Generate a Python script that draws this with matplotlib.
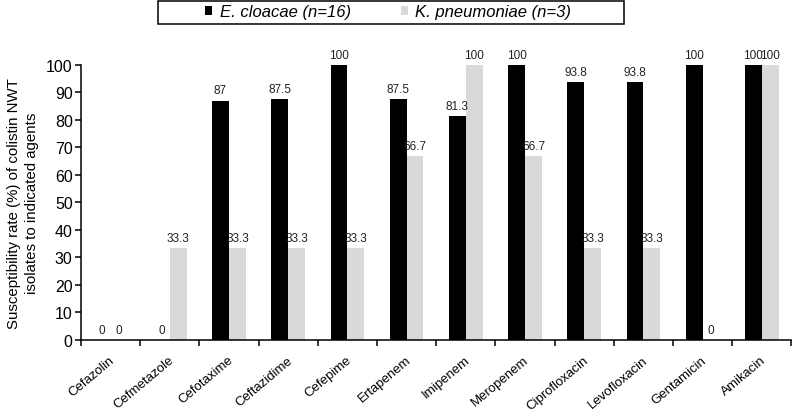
import matplotlib

matplotlib.use("Agg")
import numpy as np
from matplotlib import pyplot as plt
from matplotlib.patches import Rectangle

# data
agents = [
    "Cefazolin", "Cefmetazole", "Cefotaxime", "Ceftazidime", "Cefepime",
    "Ertapenem", "Imipenem", "Meropenem", "Ciprofloxacin", "Levofloxacin",
    "Gentamicin", "Amikacin",
]
cloacae = [0, 0, 87, 87.5, 100, 87.5, 81.3, 100, 93.8, 93.8, 100, 100]
pneumoniae = [0, 33.3, 33.3, 33.3, 33.3, 66.7, 100, 66.7, 33.3, 33.3, 0, 100]
cloacae_labels = ["0", "0", "87", "87.5", "100", "87.5", "81.3", "100", "93.8", "93.8", "100", "100"]
pneumoniae_labels = ["0", "33.3", "33.3", "33.3", "33.3", "66.7", "100", "66.7", "33.3", "33.3", "0", "100"]
series_names = ["E. cloacae (n=16)", "K. pneumoniae (n=3)"]

plt.rcParams["font.family"] = ["Liberation Sans", "DejaVu Sans"]

fig = plt.figure(figsize=(7.93, 4.14), dpi=100)
ax = fig.add_axes([0.1021, 0.177, 0.896, 0.664])

x = np.arange(len(agents))
w = 0.285
b1 = ax.bar(x - w / 2, cloacae, w, color="black", label=series_names[0])
b2 = ax.bar(x + w / 2, pneumoniae, w, color="#d9d9d9", label=series_names[1])

for xs, vals, labs in ((x - w / 2, cloacae, cloacae_labels), (x + w / 2, pneumoniae, pneumoniae_labels)):
    for xi, v, lab in zip(xs, vals, labs):
        ax.annotate(lab, xy=(xi, v), xytext=(0, 3), textcoords="offset points",
                    ha="center", va="bottom", fontsize=8.5, color="#222222")

ax.set_xlim(-0.5, len(agents) - 0.5)
ax.set_ylim(0, 100)
ax.set_yticks(range(0, 101, 10))
ax.tick_params(axis="y", labelsize=11.5, length=4, width=1.1, direction="out", pad=2)
ax.set_xticks(np.arange(len(agents) + 1) - 0.5)
ax.set_xticklabels([])
ax.tick_params(axis="x", length=4, width=1.1, direction="out")

for i, name in enumerate(agents):
    ax.annotate(name, xy=(i, 0), xycoords=("data", "axes fraction"),
                xytext=(-1, -10), textcoords="offset points", rotation=40,
                ha="right", va="top", rotation_mode="anchor", fontsize=9.5)

for side in ("top", "right"):
    ax.spines[side].set_visible(False)
for side in ("left", "bottom"):
    ax.spines[side].set_linewidth(1.1)

ax.set_ylabel("Susceptibility rate (%) of colistin NWT\nisolates to indicated agents",
              fontsize=10.8, labelpad=5, linespacing=1.35)

# legend box drawn separately, legend itself without frame
fig.patches.append(Rectangle((158 / 793, 1 - 25 / 414), 466 / 793, 23.5 / 414,
                             transform=fig.transFigure, facecolor="white",
                             edgecolor="black", linewidth=1.1))
leg = fig.legend(handles=[b1, b2], loc="center left",
                 bbox_to_anchor=(197 / 793, 1 - 13 / 414), ncol=2, frameon=False,
                 borderpad=0, handlelength=0.42, handleheight=0.42,
                 handletextpad=0.45, columnspacing=3.0,
                 prop={"size": 12, "style": "italic"})

fig.savefig("out.png", dpi=100)
